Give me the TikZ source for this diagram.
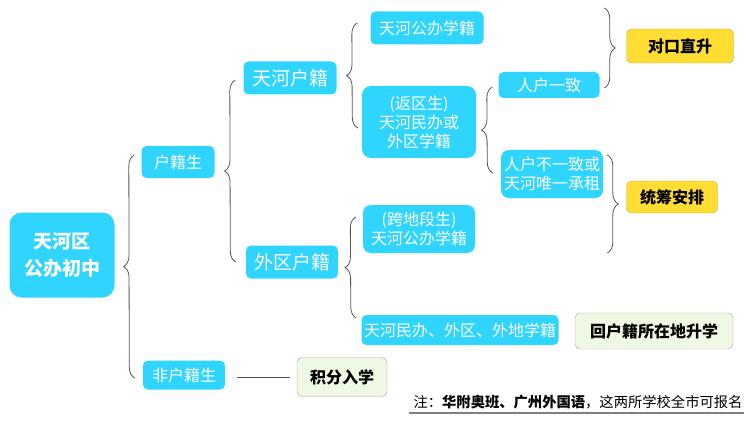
\documentclass[tikz,border=0pt]{standalone}
\usepackage{fontspec}
\setmainfont{Noto Sans CJK SC}
\usepackage{xcolor}
\usetikzlibrary{decorations.pathreplacing}
\definecolor{cyanbox}{HTML}{30D5FF}
\definecolor{yelbox}{HTML}{FFDD33}
\definecolor{yelline}{HTML}{C8A43A}
\definecolor{grnbox}{HTML}{EEF8E2}
\definecolor{grnline}{HTML}{A3AAA0}
\definecolor{brcline}{HTML}{555555}

\begin{document}
\begin{tikzpicture}[x=1pt, y=-1pt,
  cy/.style={fill=cyanbox, text=white, rounded corners=5pt, align=center,
             inner sep=2pt, font=\fontsize{16}{19}\selectfont},
  cybig/.style={cy, font=\fontsize{19}{23}\selectfont},
  yl/.style={draw=yelline, fill=yelbox, rounded corners=5pt, inner sep=2pt,
             font=\fontsize{16}{19}\selectfont\bfseries},
  gr/.style={draw=grnline, fill=grnbox, rounded corners=5pt, inner sep=2pt,
             font=\fontsize{16}{19}\selectfont\bfseries},
  brc/.style={draw=brcline, line width=0.8pt,
              decorate, decoration={brace, amplitude=11pt}},
  ln/.style={draw=brcline, line width=0.8pt}]
\useasboundingbox (0,0) rectangle (754,422);

% ---- root and first level ------------------------------------------------
\node[cy, font=\fontsize{19}{27}\selectfont\bfseries, rounded corners=12pt,
      minimum width=105pt, minimum height=85pt] (ROOT) at (62,255) {天河区\\公办初中};
\node[cy, minimum width=73pt, minimum height=32pt] (HJ) at (178,162) {户籍生};
\node[cy, minimum width=82pt, minimum height=29pt] (FHJ) at (184,375) {非户籍生};

% ---- household registration ---------------------------------------------
\node[cybig, minimum width=93pt, minimum height=33pt] (TH) at (290,78) {天河户籍};
\node[cybig, minimum width=92pt, minimum height=33pt] (WQ) at (292,262) {外区户籍};

\node[cy, minimum width=113pt, minimum height=33pt] (GB) at (427,28) {天河公办学籍};
\node[cy, rounded corners=9pt, minimum width=114pt, minimum height=72pt] (FQ) at (419,122) {(返区生)\\天河民办或\\外区学籍};
\node[cy, minimum width=101pt, minimum height=26pt] (YZ) at (549,85) {人户一致};
\node[cy, rounded corners=8pt, minimum width=102pt, minimum height=48pt] (BYZ) at (552,174) {人户不一致或\\天河唯一承租};
\node[cy, rounded corners=8pt, minimum width=112pt, minimum height=48pt] (KD) at (419,229) {(跨地段生)\\天河公办学籍};
\node[cy, minimum width=197pt, minimum height=30pt] (MB) at (460,330) {天河民办、外区、外地学籍};

% ---- outcomes -------------------------------------------------------------
\node[yl, minimum width=107pt, minimum height=34pt] (DK) at (680,46) {对口直升};
\node[yl, minimum width=91pt, minimum height=32pt] (TC) at (672,197) {统筹安排};
\node[gr, minimum width=158pt, minimum height=36pt] (HH) at (654,331) {回户籍所在地升学};
\node[gr, minimum width=90pt, minimum height=39pt] (JF) at (342,377) {积分入学};

\node[inner sep=1pt, font=\fontsize{14.3}{17}\selectfont] (NOTE) at (578,402)
  {注：\textbf{华附奥班、广州外国语}，这两所学校全市可报名};
\draw[draw=gray, line width=1.5pt] ([xshift=-3pt,yshift=-3pt]NOTE.south west) -- ([yshift=-3pt]NOTE.south east);

% ---- braces -----------------------------------------------------------------
\draw[brc] ([xshift=-8pt,yshift=-3pt]FHJ.west) -- ([xshift=-7pt,yshift=7pt]HJ.west);
\draw[brc] ([xshift=-10pt]WQ.west) -- ([xshift=-8pt,yshift=-2pt]TH.west);
\draw[brc] ([xshift=-4pt,yshift=-6pt]FQ.west) -- ([xshift=-13pt,yshift=5pt]GB.west);
\draw[brc] ([xshift=-8pt,yshift=1pt]BYZ.west) -- ([xshift=-6pt,yshift=-2pt]YZ.west);
\draw[brc] ([xshift=-5pt,yshift=12pt]MB.west) -- ([xshift=-7pt,yshift=12pt]KD.west);
\draw[brc] ([xshift=-22pt,yshift=38pt]DK.west) -- ([xshift=-22pt,yshift=-42pt]DK.west);
\draw[brc] ([xshift=-19pt,yshift=42pt]TC.west) -- ([xshift=-19pt,yshift=-56pt]TC.west);
\draw[ln, shorten <=12pt, shorten >=7pt] (FHJ.east |- JF.west) -- (JF.west);

\end{tikzpicture}
\end{document}
